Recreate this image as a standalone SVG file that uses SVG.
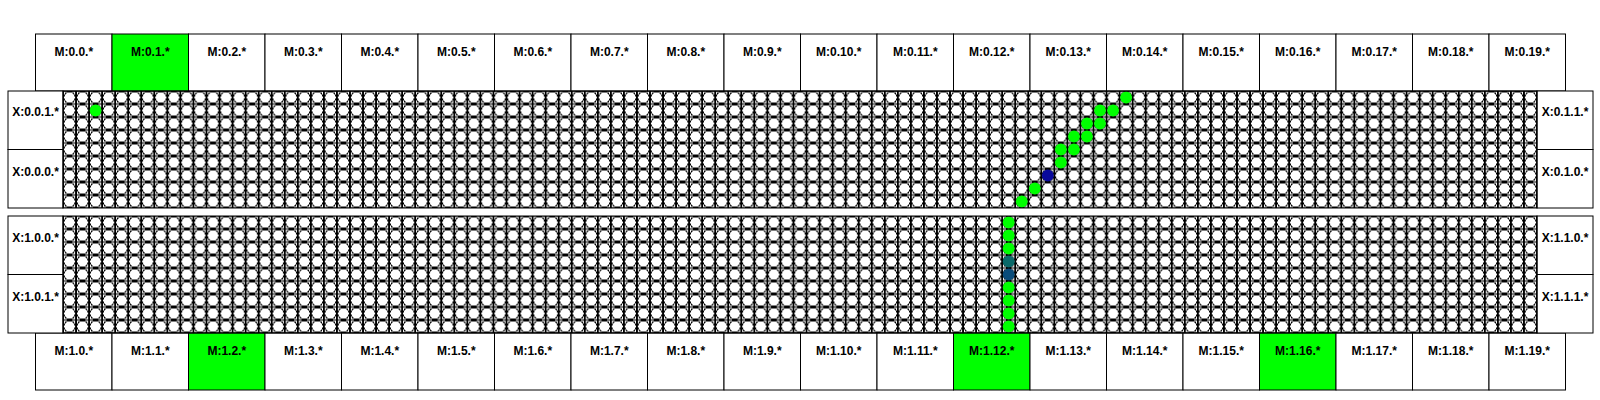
<svg xmlns="http://www.w3.org/2000/svg" width="1600" height="400" viewBox="0 0 1600 400">
<style>
.box{fill:#fff;stroke:#000;stroke-width:1}
.on{fill:#00ff00;stroke:#000;stroke-width:1}
.lbl{font-family:"Liberation Sans",Arial,sans-serif;font-weight:bold;font-size:12px;text-anchor:middle;fill:#000}
.dot{fill:#00ff00}
.frame{fill:none;stroke:#000;stroke-width:1}
</style>
<defs>
<pattern id="cell" patternUnits="userSpaceOnUse" x="6.5221" y="6.5" width="13.0442" height="13">
<g shape-rendering="crispEdges">
<path d="M6.5221 0V13M0 6.5H13.0442" stroke="#000" stroke-width="1" fill="none"/>
<g fill="#fff" stroke="#000" stroke-width="1">
<circle cx="0" cy="0" r="5.8"/>
<circle cx="13.0442" cy="0" r="5.8"/>
<circle cx="0" cy="13" r="5.8"/>
<circle cx="13.0442" cy="13" r="5.8"/>
</g>
</g>
</pattern>
</defs>
<rect width="1600" height="400" fill="#fff"/>

<g id="top-row">
<g id="M0_0"><rect class="box" x="35.5" y="34" width="76.5" height="57"/><text class="lbl" x="73.75" y="56">M:0.0.*</text></g>
<g id="M0_1"><rect class="on" x="112" y="34" width="76.5" height="57"/><text class="lbl" x="150.25" y="56">M:0.1.*</text></g>
<g id="M0_2"><rect class="box" x="188.5" y="34" width="76.5" height="57"/><text class="lbl" x="226.75" y="56">M:0.2.*</text></g>
<g id="M0_3"><rect class="box" x="265" y="34" width="76.5" height="57"/><text class="lbl" x="303.25" y="56">M:0.3.*</text></g>
<g id="M0_4"><rect class="box" x="341.5" y="34" width="76.5" height="57"/><text class="lbl" x="379.75" y="56">M:0.4.*</text></g>
<g id="M0_5"><rect class="box" x="418" y="34" width="76.5" height="57"/><text class="lbl" x="456.25" y="56">M:0.5.*</text></g>
<g id="M0_6"><rect class="box" x="494.5" y="34" width="76.5" height="57"/><text class="lbl" x="532.75" y="56">M:0.6.*</text></g>
<g id="M0_7"><rect class="box" x="571" y="34" width="76.5" height="57"/><text class="lbl" x="609.25" y="56">M:0.7.*</text></g>
<g id="M0_8"><rect class="box" x="647.5" y="34" width="76.5" height="57"/><text class="lbl" x="685.75" y="56">M:0.8.*</text></g>
<g id="M0_9"><rect class="box" x="724" y="34" width="76.5" height="57"/><text class="lbl" x="762.25" y="56">M:0.9.*</text></g>
<g id="M0_10"><rect class="box" x="800.5" y="34" width="76.5" height="57"/><text class="lbl" x="838.75" y="56">M:0.10.*</text></g>
<g id="M0_11"><rect class="box" x="877" y="34" width="76.5" height="57"/><text class="lbl" x="915.25" y="56">M:0.11.*</text></g>
<g id="M0_12"><rect class="box" x="953.5" y="34" width="76.5" height="57"/><text class="lbl" x="991.75" y="56">M:0.12.*</text></g>
<g id="M0_13"><rect class="box" x="1030" y="34" width="76.5" height="57"/><text class="lbl" x="1068.25" y="56">M:0.13.*</text></g>
<g id="M0_14"><rect class="box" x="1106.5" y="34" width="76.5" height="57"/><text class="lbl" x="1144.75" y="56">M:0.14.*</text></g>
<g id="M0_15"><rect class="box" x="1183" y="34" width="76.5" height="57"/><text class="lbl" x="1221.25" y="56">M:0.15.*</text></g>
<g id="M0_16"><rect class="box" x="1259.5" y="34" width="76.5" height="57"/><text class="lbl" x="1297.75" y="56">M:0.16.*</text></g>
<g id="M0_17"><rect class="box" x="1336" y="34" width="76.5" height="57"/><text class="lbl" x="1374.25" y="56">M:0.17.*</text></g>
<g id="M0_18"><rect class="box" x="1412.5" y="34" width="76.5" height="57"/><text class="lbl" x="1450.75" y="56">M:0.18.*</text></g>
<g id="M0_19"><rect class="box" x="1489" y="34" width="76.5" height="57"/><text class="lbl" x="1527.25" y="56">M:0.19.*</text></g>
</g>

<g id="bottom-row">
<g id="M1_0"><rect class="box" x="35.5" y="333" width="76.5" height="57"/><text class="lbl" x="73.75" y="355">M:1.0.*</text></g>
<g id="M1_1"><rect class="box" x="112" y="333" width="76.5" height="57"/><text class="lbl" x="150.25" y="355">M:1.1.*</text></g>
<g id="M1_2"><rect class="on" x="188.5" y="333" width="76.5" height="57"/><text class="lbl" x="226.75" y="355">M:1.2.*</text></g>
<g id="M1_3"><rect class="box" x="265" y="333" width="76.5" height="57"/><text class="lbl" x="303.25" y="355">M:1.3.*</text></g>
<g id="M1_4"><rect class="box" x="341.5" y="333" width="76.5" height="57"/><text class="lbl" x="379.75" y="355">M:1.4.*</text></g>
<g id="M1_5"><rect class="box" x="418" y="333" width="76.5" height="57"/><text class="lbl" x="456.25" y="355">M:1.5.*</text></g>
<g id="M1_6"><rect class="box" x="494.5" y="333" width="76.5" height="57"/><text class="lbl" x="532.75" y="355">M:1.6.*</text></g>
<g id="M1_7"><rect class="box" x="571" y="333" width="76.5" height="57"/><text class="lbl" x="609.25" y="355">M:1.7.*</text></g>
<g id="M1_8"><rect class="box" x="647.5" y="333" width="76.5" height="57"/><text class="lbl" x="685.75" y="355">M:1.8.*</text></g>
<g id="M1_9"><rect class="box" x="724" y="333" width="76.5" height="57"/><text class="lbl" x="762.25" y="355">M:1.9.*</text></g>
<g id="M1_10"><rect class="box" x="800.5" y="333" width="76.5" height="57"/><text class="lbl" x="838.75" y="355">M:1.10.*</text></g>
<g id="M1_11"><rect class="box" x="877" y="333" width="76.5" height="57"/><text class="lbl" x="915.25" y="355">M:1.11.*</text></g>
<g id="M1_12"><rect class="on" x="953.5" y="333" width="76.5" height="57"/><text class="lbl" x="991.75" y="355">M:1.12.*</text></g>
<g id="M1_13"><rect class="box" x="1030" y="333" width="76.5" height="57"/><text class="lbl" x="1068.25" y="355">M:1.13.*</text></g>
<g id="M1_14"><rect class="box" x="1106.5" y="333" width="76.5" height="57"/><text class="lbl" x="1144.75" y="355">M:1.14.*</text></g>
<g id="M1_15"><rect class="box" x="1183" y="333" width="76.5" height="57"/><text class="lbl" x="1221.25" y="355">M:1.15.*</text></g>
<g id="M1_16"><rect class="on" x="1259.5" y="333" width="76.5" height="57"/><text class="lbl" x="1297.75" y="355">M:1.16.*</text></g>
<g id="M1_17"><rect class="box" x="1336" y="333" width="76.5" height="57"/><text class="lbl" x="1374.25" y="355">M:1.17.*</text></g>
<g id="M1_18"><rect class="box" x="1412.5" y="333" width="76.5" height="57"/><text class="lbl" x="1450.75" y="355">M:1.18.*</text></g>
<g id="M1_19"><rect class="box" x="1489" y="333" width="76.5" height="57"/><text class="lbl" x="1527.25" y="355">M:1.19.*</text></g>
</g>

<g id="panel0">
<g id="X0_0_1"><rect class="box" x="8" y="91" width="55" height="58.5"/><text class="lbl" x="35.5" y="116">X:0.0.1.*</text></g>
<g id="X0_0_0"><rect class="box" x="8" y="149.5" width="55" height="58.5"/><text class="lbl" x="35.5" y="176">X:0.0.0.*</text></g>
<g id="X0_1_1"><rect class="box" x="1537" y="91" width="56" height="58.5"/><text class="lbl" x="1565" y="116">X:0.1.1.*</text></g>
<g id="X0_1_0"><rect class="box" x="1537" y="149.5" width="56" height="58.5"/><text class="lbl" x="1565" y="176">X:0.1.0.*</text></g>
<g id="grid0" transform="translate(63,91)">
<rect x="0" y="0" width="1474" height="117" fill="url(#cell)"/>
<circle class="dot" cx="32.61" cy="19.5" r="5.9"/>
<circle class="dot" cx="958.75" cy="110.5" r="5.9"/>
<circle class="dot" cx="971.79" cy="97.5" r="5.9"/>
<circle cx="984.84" cy="84.5" r="5.9" fill="#0a0a9c"/>
<circle class="dot" cx="997.88" cy="71.5" r="5.9"/>
<circle class="dot" cx="997.88" cy="58.5" r="5.9"/>
<circle class="dot" cx="1010.93" cy="58.5" r="5.9"/>
<circle class="dot" cx="1010.93" cy="45.5" r="5.9"/>
<circle class="dot" cx="1023.97" cy="45.5" r="5.9"/>
<circle class="dot" cx="1023.97" cy="32.5" r="5.9"/>
<circle class="dot" cx="1037.02" cy="32.5" r="5.9"/>
<circle class="dot" cx="1037.02" cy="19.5" r="5.9"/>
<circle class="dot" cx="1050.06" cy="19.5" r="5.9"/>
<circle class="dot" cx="1063.10" cy="6.5" r="5.9"/>
<rect class="frame" x="0" y="0" width="1474" height="117"/>
</g>
</g>

<g id="panel1">
<g id="X1_0_0"><rect class="box" x="8" y="216" width="55" height="58.5"/><text class="lbl" x="35.5" y="242">X:1.0.0.*</text></g>
<g id="X1_0_1"><rect class="box" x="8" y="274.5" width="55" height="58.5"/><text class="lbl" x="35.5" y="301">X:1.0.1.*</text></g>
<g id="X1_1_0"><rect class="box" x="1537" y="216" width="56" height="58.5"/><text class="lbl" x="1565" y="242">X:1.1.0.*</text></g>
<g id="X1_1_1"><rect class="box" x="1537" y="274.5" width="56" height="58.5"/><text class="lbl" x="1565" y="301">X:1.1.1.*</text></g>
<g id="grid1" transform="translate(63,216)">
<rect x="0" y="0" width="1474" height="117" fill="url(#cell)"/>
<circle class="dot" cx="945.70" cy="6.5" r="5.9"/>
<circle class="dot" cx="945.70" cy="19.5" r="5.9"/>
<circle class="dot" cx="945.70" cy="32.5" r="5.9"/>
<circle cx="945.70" cy="45.5" r="5.9" fill="#0a6a6a"/>
<circle cx="945.70" cy="58.5" r="5.9" fill="#0a4c7a"/>
<circle class="dot" cx="945.70" cy="71.5" r="5.9"/>
<circle class="dot" cx="945.70" cy="84.5" r="5.9"/>
<circle class="dot" cx="945.70" cy="97.5" r="5.9"/>
<circle class="dot" cx="945.70" cy="110.5" r="5.9"/>
<rect class="frame" x="0" y="0" width="1474" height="117"/>
</g>
</g>
</svg>
